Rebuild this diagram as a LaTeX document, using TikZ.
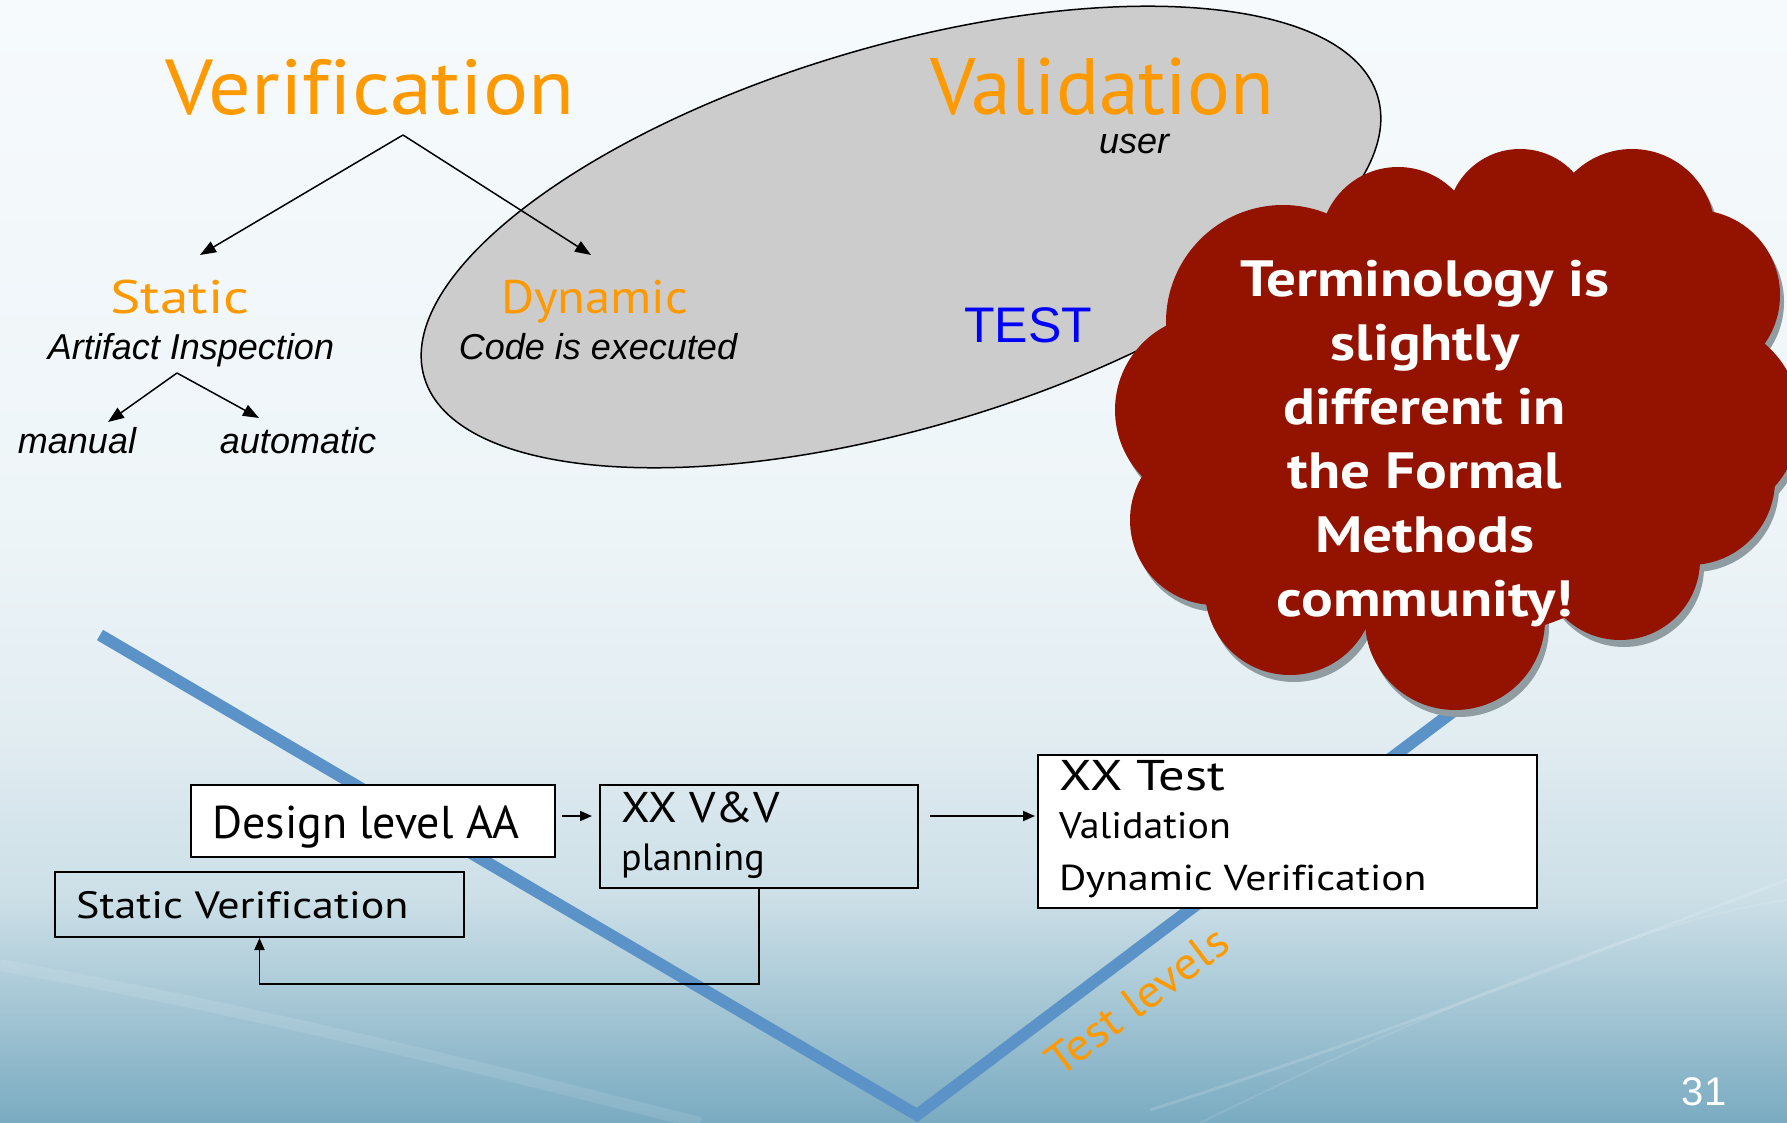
\documentclass[tikz,border=0pt]{standalone}
\usepackage{fontspec}
\setmainfont{Liberation Sans}
\newfontfamily\cmc[Ligatures=CommonOff]{PT Sans}
\newfontfamily\cmcA[Ligatures=CommonOff,FakeStretch=1.08]{PT Sans}
\newfontfamily\cmcB[Ligatures=CommonOff,FakeStretch=1.16]{PT Sans}
\newfontfamily\cmcC[Ligatures=CommonOff,FakeStretch=1.22]{PT Sans}
\newfontfamily\ari{Liberation Sans}
\usetikzlibrary{arrows.meta,calc}
\definecolor{orng}{HTML}{FF9900}
\definecolor{vblue}{HTML}{5B93C8}
\definecolor{cloudred}{HTML}{931200}
\definecolor{ellgray}{HTML}{CCCCCC}
\definecolor{shadowc}{HTML}{8F9CA1}
\definecolor{bgtop}{HTML}{F6FAFC}
\definecolor{bgA}{HTML}{EEF5F8}
\definecolor{bgB}{HTML}{E2EDF2}
\definecolor{bgC}{HTML}{CCDFE7}
\definecolor{bgD}{HTML}{A3C5D4}
\definecolor{bgbot}{HTML}{7AABC1}
\pgfdeclareverticalshading{bgshade}{100bp}{color(0bp)=(bgbot); color(25bp)=(bgbot); color(30bp)=(bgD); color(35bp)=(bgC); color(42.5bp)=(bgB); color(52.5bp)=(bgA); color(75bp)=(bgtop); color(100bp)=(bgtop)}
\begin{document}
\begin{tikzpicture}[x=1pt,y=-1pt,
  arr/.style={line width=1.5pt,-{Triangle[length=16pt,width=12pt]}},
  sarr/.style={line width=1.8pt,-{Triangle[length=12pt,width=10pt]}},
  box/.style={draw=black,line width=2pt,inner sep=0pt,rectangle},
  txt/.style={inner sep=0pt},
  big/.style={txt,text=orng,anchor=base},
  mid/.style={txt,text=orng,anchor=base},
  ital/.style={txt,font=\ari\itshape\fontsize{36}{43}\selectfont,anchor=base},
  boxtxt/.style={txt,anchor=base west},
  cloudtxt/.style={txt,font=\cmcB\bfseries\fontsize{51}{61}\selectfont,text=white,anchor=base}]
\useasboundingbox (0,0) rectangle (1787,1123);
\clip (0,0) rectangle (1787,1123);
% background
\shade[shading=bgshade] (0,0) rectangle (1787,1123);
\draw[white,opacity=0.10,line width=12pt] (0,965) .. controls (250,1010) and (450,1060) .. (700,1123);
\draw[white,opacity=0.14,line width=3pt] (1150,1110) .. controls (1400,1030) and (1600,950) .. (1787,880);
\draw[white,opacity=0.10,line width=2pt] (1200,1123) .. controls (1450,1000) and (1650,920) .. (1787,900);

% V line
\coordinate (vstart) at (100,635);
\coordinate (vbot) at (917,1115);
\coordinate (vend) at (1475,695);
\draw[vblue,line width=12pt] (vstart) -- (vbot) -- (vend);

% ellipse
\draw[fill=ellgray,line width=1.5pt,rotate around={16.4:(901,237)}] (901,237) ellipse [x radius=497, y radius=191];

% top texts
\node[big,font=\cmcA\fontsize{78}{94}\selectfont] (verif) at (370,115) {Verification};
\node[big,font=\cmc\fontsize{80}{96}\selectfont] (valid) at (1102,115) {Validation};
\node[txt,font=\ari\itshape\fontsize{36}{43}\selectfont,anchor=base] (user) at (1134,154) {user};
\node[txt,font=\ari\fontsize{50}{60}\selectfont,text=blue,anchor=base] (test) at (1028,342) {TEST};
\node[mid,font=\cmcC\fontsize{47}{56}\selectfont] (static) at (180,313) {Static};
\node[mid,font=\cmcA\fontsize{47}{56}\selectfont] (dynamic) at (595,313) {Dynamic};
\node[ital] (artifact) at (191,359) {Artifact Inspection};
\node[ital] (code) at (598,359) {Code is executed};
\node[ital] (manual) at (77,453) {manual};
\node[ital] (auto) at (298,453) {automatic};

\coordinate (vapex) at (403,135);
\coordinate (sttip) at (200,255);
\coordinate (dytip) at (591,255);
\draw[arr] (vapex) -- (sttip);
\draw[arr] (vapex) -- (dytip);
\coordinate (aapex) at (177,373);
\coordinate (mantip) at (108,422);
\coordinate (auttip) at (259,418);
\draw[arr] (aapex) -- (mantip);
\draw[arr] (aapex) -- (auttip);

% boxes
\node[box,fill=white,minimum width=364pt,minimum height=72pt] (design) at (373,821) {};
\node[box,minimum width=318pt,minimum height=103pt] (vv) at (759,836.5) {};
\node[box,minimum width=409pt,minimum height=65pt] (stat) at (259.5,904.5) {};
\node[box,fill=white,minimum width=499pt,minimum height=153pt] (tbox) at (1287.5,831.5) {};

\node[boxtxt,font=\cmc\fontsize{46}{55}\selectfont] (designt) at (212,838) {Design level AA};
\node[boxtxt,font=\cmcA\fontsize{43}{52}\selectfont] (vvt) at (621,822) {XX V\&V};
\node[boxtxt,font=\cmc\fontsize{38}{46}\selectfont] (plan) at (621,870) {planning};
\node[boxtxt,font=\cmcB\fontsize{38}{46}\selectfont] (statt) at (76,918) {Static Verification};
\node[boxtxt,font=\cmcC\fontsize{43}{52}\selectfont] (xxt) at (1059,790) {XX Test};
\node[boxtxt,font=\cmcA\fontsize{37}{44}\selectfont] (valt) at (1059,838) {Validation};
\node[boxtxt,font=\cmcB\fontsize{36}{44}\selectfont] (dynt) at (1059,890) {Dynamic Verification};

\coordinate (d1) at ([xshift=6pt,yshift=5pt]design.east);
\draw[sarr] (d1) -- ([xshift=-7pt]d1 -| vv.west);
\draw[sarr] ([xshift=11pt]vv.east |- d1) -- ([xshift=-2pt]tbox.west |- d1);
\draw[sarr] (vv.south) -- ++(0,95) -| (stat.south);

% Test levels
\node[txt,font=\cmcA\fontsize{45}{54}\selectfont,text=orng,rotate=37] (tl) at (1137,1001) {Test levels};

% cloud shadow
\begin{scope}[shift={(4,7)}]
\foreach \cx/\cy/\r in {1283/322/117,1398/245/78,1520/222/73,1632/232/83,1695/295/85,1700/420/100,1690/480/85,1620/560/80,1455/620/90,1290/590/85,1215/520/85,1210/410/95}
  \fill[shadowc] (\cx,\cy) circle [radius=\r pt];
\end{scope}
% cloud
\foreach \cx/\cy/\r in {1283/322/117,1398/245/78,1520/222/73,1632/232/83,1695/295/85,1700/420/100,1690/480/85,1620/560/80,1455/620/90,1290/590/85,1215/520/85,1210/410/95}
  \fill[cloudred] (\cx,\cy) circle [radius=\r pt];
\fill[cloudred] (1450,420) ellipse [x radius=260, y radius=220];

\node[cloudtxt] (c1) at (1425,296) {Terminology is};
\node[cloudtxt] (c2) at (1425,360) {slightly};
\node[cloudtxt] (c3) at (1425,424) {different in};
\node[cloudtxt] (c4) at (1425,488) {the Formal};
\node[cloudtxt] (c5) at (1425,552) {Methods};
\node[cloudtxt] (c6) at (1425,616) {community!};

% page number
\node[txt,font=\ari\fontsize{40}{48}\selectfont,text=white,anchor=base] (pg) at (1704,1105) {31};
\end{tikzpicture}
\end{document}
